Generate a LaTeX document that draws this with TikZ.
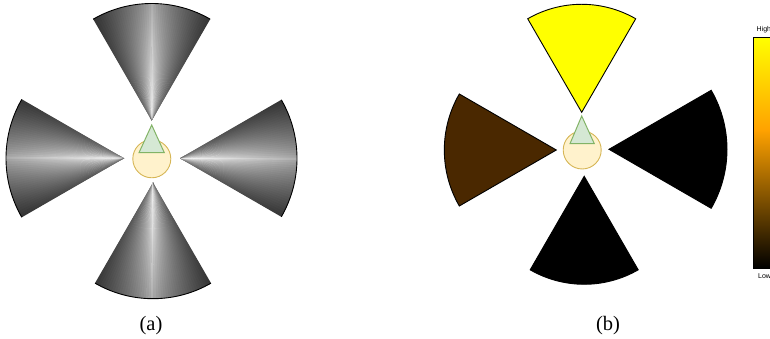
\documentclass[tikz,border=0pt]{standalone}
\usepackage{fontspec}
\setmainfont{Liberation Serif}
\newfontfamily\barfont{Liberation Sans}
\definecolor{hubfill}{HTML}{FFF2CC}
\definecolor{hubdraw}{HTML}{D6B656}
\definecolor{trifill}{HTML}{D5E8D4}
\definecolor{tridraw}{HTML}{82B366}
\definecolor{brownsec}{RGB}{74,40,0}
\definecolor{cbOrange}{HTML}{FFA200}
\definecolor{pureyellow}{RGB}{255,255,0}
\pgfdeclareverticalshading{cbarshade}{100bp}{color(0bp)=(black); color(25bp)=(black); color(55bp)=(cbOrange); color(75bp)=(pureyellow); color(100bp)=(pureyellow)}
\newcommand\graysector[4]{%
  \foreach \i in {-24,...,24} {
    \pgfmathsetmacro\tt{(abs(\i)/24)^0.72}
    \pgfmathsetmacro\inn{100-60*\tt}
    \pgfmathsetmacro\outr{68-48*\tt}
    \pgfmathsetmacro\aa{max(#3-30,#3+\i*1.25-0.9)}
    \pgfmathsetmacro\ab{min(#3+30,#3+\i*1.25+0.9)}
    \shade[top color=white!\outr!black, bottom color=white!\inn!black, shading angle=#3-90]
      (#1,#2) -- ++(\aa:#4) arc[start angle=\aa, end angle=\ab, radius=#4] -- cycle;
  }
  \draw[line width=0.9pt] (#1,#2) ++(#3-30:#4) arc[start angle=#3-30, end angle=#3+30, radius=#4];
}
\tikzset{
  flatsector/.style={draw=black, line width=0.9pt},
  hub/.style={fill=hubfill, draw=hubdraw, line width=0.9pt},
  tri/.style={fill=trifill, draw=tridraw, line width=1pt},
  caption/.style={font=\fontsize{20.5}{24}\selectfont, inner sep=0pt, anchor=base},
  barlabel/.style={font=\barfont\fontsize{7}{8}\selectfont, inner sep=0pt, anchor=west}
}
\begin{document}
\begin{tikzpicture}[x=1pt,y=1pt]
\useasboundingbox (0,0) rectangle (770,339);
\clip (0,0) rectangle (770,339);

% ---- (a) ----
\graysector{151.7}{218.5}{90}{117}
\graysector{124}{180.7}{180}{118}
\graysector{180}{180.7}{0}{117}
\graysector{153}{156.3}{270}{116}
\filldraw[hub] (151.8,180.2) circle[radius=19];
\filldraw[tri] (151.7,214) -- (139,186.3) -- (164.3,186.3) -- cycle;
\node[caption] (capa) at (151,8) {(a)};

% ---- (b) ----
\filldraw[flatsector, fill=pureyellow] (581.7,226.7) -- ++(60:108) arc[start angle=60, end angle=120, radius=108] -- cycle;
\filldraw[flatsector, fill=brownsec] (556.3,189) -- ++(150:112) arc[start angle=150, end angle=210, radius=112] -- cycle;
\filldraw[flatsector, fill=black] (609,189.7) -- ++(-30:118) arc[start angle=-30, end angle=30, radius=118] -- cycle;
\filldraw[flatsector, fill=black] (584.2,162.7) -- ++(240:108) arc[start angle=240, end angle=300, radius=108] -- cycle;
\filldraw[hub] (582.2,189) circle[radius=19];
\filldraw[tri] (581.7,223) -- (570,195.3) -- (594.3,195.3) -- cycle;
\node[caption] (capb) at (608,8) {(b)};

% ---- colour bar ----
\shade[shading=cbarshade] (753.3,70.7) rectangle (790,301.5);
\draw[line width=0.6pt] (753.3,70.7) rectangle (790,301.5);
\node[barlabel] (high) at (756.5,309.5) {High};
\node[barlabel] (low) at (758,62.5) {Low};
\end{tikzpicture}
\end{document}
